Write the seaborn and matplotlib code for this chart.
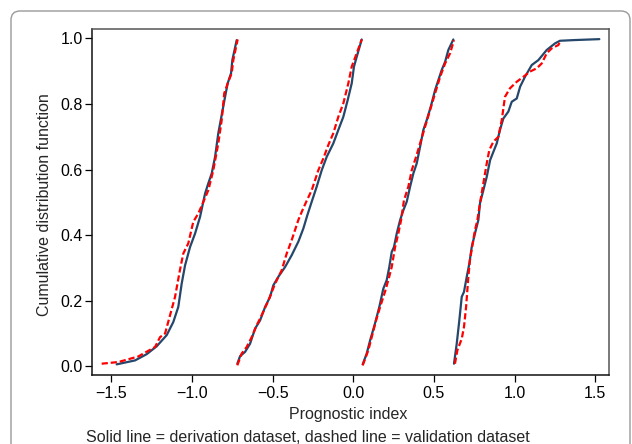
import matplotlib
matplotlib.use("Agg")
import matplotlib.pyplot as plt
from matplotlib.patches import FancyBboxPatch
import seaborn as sns
import pandas as pd

# ---- data ----
g1_deriv_x = [-1.467, -1.353, -1.281, -1.219, -1.157, -1.116, -1.085, -1.064, -1.043, -1.012, -0.981, -0.950, -0.930,
              -0.919, -0.899, -0.878, -0.857, -0.837, -0.812, -0.795, -0.779, -0.758, -0.750, -0.723]
g1_deriv_y = [0.006, 0.018, 0.037, 0.061, 0.095, 0.135, 0.181, 0.252, 0.308, 0.364, 0.405, 0.456, 0.502,
              0.527, 0.558, 0.588, 0.639, 0.711, 0.777, 0.822, 0.863, 0.894, 0.934, 0.995]
g1_valid_x = [-1.560, -1.457, -1.333, -1.229, -1.198, -1.167, -1.136, -1.105, -1.075, -1.054, -1.023, -0.992, -0.961,
              -0.925, -0.899, -0.868, -0.837, -0.816, -0.800, -0.775, -0.754, -0.744, -0.717]
g1_valid_y = [0.008, 0.013, 0.030, 0.059, 0.089, 0.100, 0.156, 0.212, 0.293, 0.344, 0.375, 0.441, 0.466,
              0.507, 0.537, 0.598, 0.680, 0.751, 0.833, 0.868, 0.894, 0.934, 0.997]

g2_deriv_x = [-0.719, -0.702, -0.671, -0.640, -0.609, -0.578, -0.547, -0.516, -0.496, -0.465, -0.423, -0.382, -0.341,
              -0.310, -0.285, -0.258, -0.227, -0.196, -0.165, -0.124, -0.093, -0.062, -0.035, -0.010, 0.004, 0.021, 0.052]
g2_deriv_y = [0.008, 0.031, 0.044, 0.069, 0.115, 0.140, 0.181, 0.212, 0.247, 0.273, 0.303, 0.339, 0.380,
              0.420, 0.461, 0.502, 0.548, 0.598, 0.639, 0.680, 0.721, 0.761, 0.812, 0.863, 0.914, 0.944, 0.997]
g2_valid_x = [-0.719, -0.692, -0.661, -0.630, -0.599, -0.568, -0.527, -0.485, -0.444, -0.413, -0.382, -0.341, -0.320,
              -0.290, -0.258, -0.217, -0.186, -0.155, -0.124, -0.093, -0.062, -0.031, -0.010, 0.021, 0.052]
g2_valid_y = [0.003, 0.039, 0.059, 0.089, 0.125, 0.156, 0.200, 0.252, 0.293, 0.344, 0.385, 0.446, 0.471,
              0.504, 0.537, 0.598, 0.634, 0.675, 0.711, 0.761, 0.802, 0.863, 0.914, 0.955, 0.997]

g3_deriv_x = [0.058, 0.083, 0.104, 0.134, 0.161, 0.186, 0.207, 0.223, 0.238, 0.252, 0.269, 0.290, 0.310, 0.331,
              0.352, 0.372, 0.393, 0.414, 0.434, 0.455, 0.480, 0.507, 0.527, 0.548, 0.569, 0.589, 0.620]
g3_deriv_y = [0.006, 0.039, 0.079, 0.130, 0.181, 0.237, 0.263, 0.303, 0.349, 0.364, 0.405, 0.446, 0.476, 0.502,
              0.548, 0.588, 0.619, 0.670, 0.721, 0.751, 0.792, 0.843, 0.873, 0.904, 0.929, 0.965, 0.997]
g3_valid_x = [0.058, 0.093, 0.114, 0.141, 0.166, 0.196, 0.217, 0.238, 0.259, 0.279, 0.296, 0.314, 0.321,
              0.341, 0.362, 0.389, 0.414, 0.445, 0.476, 0.507, 0.538, 0.569, 0.600, 0.624]
g3_valid_y = [0.003, 0.049, 0.089, 0.140, 0.181, 0.227, 0.263, 0.303, 0.364, 0.405, 0.446, 0.507, 0.517,
              0.548, 0.598, 0.639, 0.680, 0.731, 0.782, 0.833, 0.883, 0.924, 0.955, 0.995]

g4_deriv_x = [0.624, 0.641, 0.657, 0.672, 0.686, 0.703, 0.719, 0.734, 0.754, 0.775, 0.785, 0.806, 0.827, 0.848,
              0.868, 0.889, 0.909, 0.930, 0.961, 0.982, 1.013, 1.034, 1.064, 1.106, 1.147, 1.199, 1.250, 1.281,
              1.364, 1.525]
g4_deriv_y = [0.008, 0.069, 0.140, 0.212, 0.227, 0.273, 0.313, 0.364, 0.405, 0.446, 0.497, 0.537, 0.578, 0.629,
              0.654, 0.680, 0.721, 0.756, 0.777, 0.807, 0.817, 0.853, 0.883, 0.919, 0.934, 0.965, 0.985, 0.993,
              0.995, 0.998]
g4_valid_x = [0.630, 0.645, 0.672, 0.686, 0.699, 0.713, 0.723, 0.740, 0.754, 0.769, 0.785, 0.806, 0.827, 0.843,
              0.868, 0.899, 0.920, 0.940, 0.971, 1.013, 1.054, 1.095, 1.137, 1.168, 1.199, 1.230, 1.271, 1.281]
g4_valid_y = [0.008, 0.049, 0.084, 0.120, 0.181, 0.273, 0.324, 0.375, 0.415, 0.446, 0.497, 0.558, 0.619, 0.660,
              0.685, 0.700, 0.751, 0.822, 0.848, 0.868, 0.883, 0.899, 0.909, 0.924, 0.955, 0.970, 0.980, 0.990]

x_ticks = [-1.5, -1.0, -0.5, 0.0, 0.5, 1.0, 1.5]
y_ticks = [0.0, 0.2, 0.4, 0.6, 0.8, 1.0]
x_label = "Prognostic index"
y_label = "Cumulative distribution function"
caption = "Solid line = derivation dataset, dashed line = validation dataset"

# ---- long table ----
rows = []
series = [
    ("derivation", 1, g1_deriv_x, g1_deriv_y), ("derivation", 2, g2_deriv_x, g2_deriv_y),
    ("derivation", 3, g3_deriv_x, g3_deriv_y), ("derivation", 4, g4_deriv_x, g4_deriv_y),
    ("validation", 1, g1_valid_x, g1_valid_y), ("validation", 2, g2_valid_x, g2_valid_y),
    ("validation", 3, g3_valid_x, g3_valid_y), ("validation", 4, g4_valid_x, g4_valid_y),
]
for ds, g, xs, ys in series:
    for xv, yv in zip(xs, ys):
        rows.append({"x": xv, "y": yv, "dataset": ds, "group": f"{ds}{g}"})
df = pd.DataFrame(rows)

sns.set_theme(style="ticks")
plt.rcParams["font.family"] = ["Liberation Sans", "DejaVu Sans"]
plt.rcParams["axes.unicode_minus"] = True

W, H = 632, 444
fig = plt.figure(figsize=(W / 100, H / 100), dpi=100)
fig.patch.set_facecolor("white")

L, R, T, B = 92.3, 608.7, 29.3, 375.0
ax = fig.add_axes([L / W, 1 - B / H, (R - L) / W, (B - T) / H])
ax.set_facecolor("white")

sns.lineplot(data=df, x="x", y="y", hue="dataset", style="dataset", units="group",
             estimator=None, sort=False, ax=ax, legend=False,
             palette={"derivation": "#24476b", "validation": "#ff0000"},
             dashes={"derivation": "", "validation": (2.8, 1.3)},
             linewidth=1.6)

ax.set_xlim(-1.618, 1.583)
ax.set_ylim(-0.0265, 1.028)
ax.set_xticks(x_ticks)
ax.set_yticks(y_ticks)
ax.set_xticklabels([f"{v:.1f}".replace("-", "\u2212") for v in x_ticks])
ax.set_yticklabels([f"{v:.1f}" for v in y_ticks])
ax.tick_params(axis="both", direction="out", length=5, width=0.9, colors="black", labelsize=11.5)
ax.tick_params(axis="x", pad=3)
ax.tick_params(axis="y", pad=1.7)

for s in ["left", "bottom"]:
    ax.spines[s].set_color("#111111")
    ax.spines[s].set_linewidth(1.1)
for s in ["top", "right"]:
    ax.spines[s].set_visible(True)
    ax.spines[s].set_color("#555555")
    ax.spines[s].set_linewidth(1.1)

ax.set_xlabel(x_label, fontsize=11.5, va="center")
ax.set_ylabel(y_label, fontsize=11.5, va="center")
ax.xaxis.set_label_coords(0.5 - (350.5 - 348) / (R - L), -(414 - B) / (B - T))
ax.yaxis.set_label_coords(-(L - 44.2) / (R - L), 0.5 - (205 - 202.2) / (B - T))

fig.text(308 / W, (H - 441.5) / H, caption, ha="center", va="baseline", fontsize=11.5)

border = FancyBboxPatch((11, -30), 619, H - 11 + 30, boxstyle="round,pad=0,rounding_size=9",
                        transform=None, facecolor="none", edgecolor="#9a9a9a", linewidth=1.0)
fig.patches.append(border)

fig.savefig("out.png", dpi=100)
